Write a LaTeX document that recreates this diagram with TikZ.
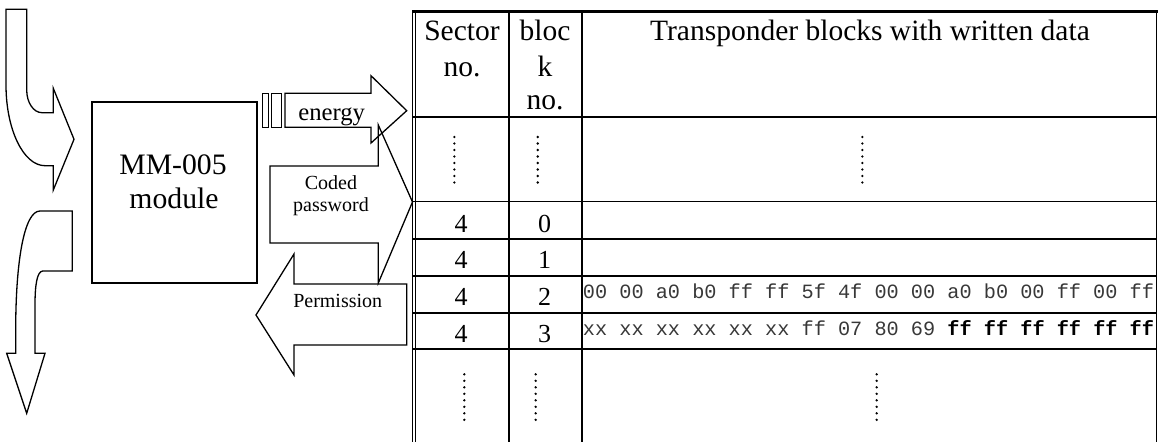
\documentclass[tikz,border=0pt]{standalone}
\usepackage{fontspec}
\setmainfont{Liberation Serif}
\setmonofont{Liberation Mono}
\tikzset{
  outl/.style={draw, line width=1.3pt, line join=miter},
  tline/.style={line width=2pt},
  tthin/.style={line width=1.1pt},
  dotcol/.style={line width=2.6pt, line cap=round, dash pattern=on 0pt off 6.5pt},
  lbl/.style={inner sep=0pt, anchor=base},
  big/.style={lbl, font=\fontsize{29.7}{34}\selectfont},
  mid/.style={lbl, font=\fontsize{24.7}{28}\selectfont},
  small/.style={lbl, font=\fontsize{20}{24}\selectfont},
  head/.style={lbl, font=\fontsize{29.5}{34}\selectfont},
  num/.style={lbl, font=\fontsize{26}{30}\selectfont},
  mono/.style={inner sep=0pt, anchor=base west, text=black!78, font=\fontsize{20.25}{24}\ttfamily},
}
\begin{document}
\begin{tikzpicture}[x=1pt,y=-1pt]
\useasboundingbox (0,0) rectangle (1158,442);

% ---- left curved arrows
\draw[outl] (6,9.3) -- (26.7,9.3) -- (26.7,90)
  .. controls (26.7,102.5) and (33.5,112.7) .. (42,112.7)
  -- (53.3,112.7) -- (53.3,88.3) -- (74,139.3) -- (53.3,190) -- (53.3,165.7)
  -- (45,165.7) .. controls (23.5,165.7) and (6,129.6) .. (6,85) -- cycle;

\draw[outl] (40,211) -- (72.3,211) -- (72.3,271) -- (42.7,271)
  .. controls (37,271.5) and (35,285) .. (35,305)
  -- (35,353.3) -- (45,353.3) -- (26.7,413.3) -- (6.7,353.3) -- (15.7,353.3)
  -- (15.7,330) .. controls (15.7,262) and (24,211) .. (40,211) -- cycle;

% ---- module box
\draw[outl] (92,102) rectangle (257,283);
\node[big] (mm) at (173,174) {MM-005};
\node[big] (module) at (174,208) {module};

% ---- energy arrow
\draw[outl] (262.7,93.3) rectangle (268.3,127.3);
\draw[outl] (271.7,93.3) rectangle (281.7,127.3);
\draw[outl] (285,93.3) -- (371,93.3) -- (371,75.7) -- (406.7,110.7) -- (371,143)
  -- (371,127.3) -- (285,127.3) -- cycle;
\begin{scope}
  \clip (285,93.3) rectangle (371,126.6);
  \node[mid] (energy) at (331.7,120.7) {energy};
\end{scope}

% ---- coded password arrow
\draw[outl] (270,166) -- (378.3,166) -- (378.3,125) -- (412.5,202) -- (378.3,283)
  -- (378.3,243) -- (270,243) -- cycle;
\node[small] (coded) at (331,189.3) {Coded};
\node[small] (pw) at (331,211.7) {password};

% ---- permission arrow
\draw[outl] (406.7,284) -- (294,284) -- (294,254) -- (256,315) -- (294,375)
  -- (294,345) -- (406.7,345) -- cycle;
\node[small] (perm) at (337.7,307.3) {Permission};

% ---- table
\draw[line width=3pt] (412,11.3) -- (1157.8,11.3);
\draw[tthin] (412.7,10) -- (412.7,442);
\draw[tthin] (415.5,10) -- (415.5,442);
\draw[line width=1.6pt] (1156.6,10) -- (1156.6,442);
\draw[tline] (509,11) -- (509,442);
\draw[tline] (581.5,11) -- (581.5,442);
\draw[tline] (413,116.7) -- (1157,116.7);
\draw[tthin] (413,201.7) -- (1157,201.7);
\draw[tline] (413,239) -- (1157,239);
\draw[tline] (413,276) -- (1157,276);
\draw[tline] (413,313.3) -- (1157,313.3);
\draw[tline] (413,349.3) -- (1157,349.3);

% header
\node[head] (sec) at (462,40.7) {Sector};
\node[head] (secno) at (462,76) {no.};
\node[head] (blc) at (545,40.7) {bloc};
\node[head] (blck) at (545,76) {k};
\node[head] (blcno) at (545,109) {no.};
\node[head] (tb) at (870,40.7) {Transponder blocks with written data};

% dotted rows
\draw[dotcol] (454.3,137) -- (454.3,183);
\draw[dotcol] (537.7,137) -- (537.7,183);
\draw[dotcol] (862.3,137) -- (862.3,183);
\draw[dotcol] (464.3,374.3) -- (464.3,420);
\draw[dotcol] (535.7,374.3) -- (535.7,420);
\draw[dotcol] (876.7,374.3) -- (876.7,420);

% numbered rows
\node[num] (s0) at (461,232.3) {4};
\node[num] (b0) at (544.5,232.3) {0};
\node[num] (s1) at (461,268.5) {4};
\node[num] (b1) at (544.5,268.5) {1};
\node[num] (s2) at (461,305.3) {4};
\node[num] (b2) at (544.5,305.3) {2};
\node[num] (s3) at (461,342.5) {4};
\node[num] (b3) at (544.5,342.5) {3};

\node[mono] (d2) at (582.7,298.5) {00 00 a0 b0 ff ff 5f 4f 00 00 a0 b0 00 ff 00 ff};
\node[mono] (d3) at (582.7,335) {xx xx xx xx xx xx ff 07 80 69 \textcolor{black}{\textbf{ff ff ff ff ff ff}}};
\end{tikzpicture}
\end{document}
